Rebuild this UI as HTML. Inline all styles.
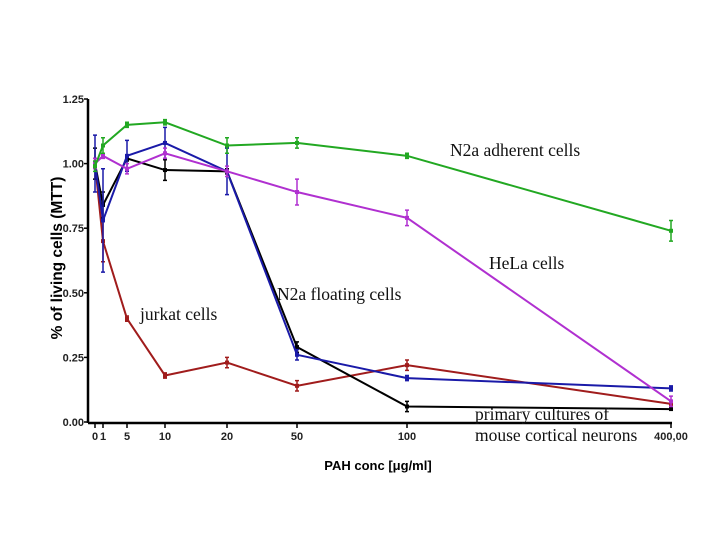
<!DOCTYPE html>
<html><head><meta charset="utf-8"><style>
body{margin:0;background:#fff}
svg{display:block}
.tk{font-family:"Liberation Sans",sans-serif;font-weight:bold;font-size:11px;fill:#222}
.an{font-family:"Liberation Serif",serif;font-size:17.5px;fill:#111}
</style></head><body>
<svg id="c" width="720" height="540">
<rect width="720" height="540" fill="#fff"/>
<g id="g"></g>
<text class="an" x="450" y="156">N2a adherent cells</text>
<text class="an" x="489" y="269">HeLa cells</text>
<text class="an" x="277" y="300">N2a floating cells</text>
<text class="an" x="140" y="320">jurkat cells</text>
<text class="an" x="475" y="420">primary cultures of</text>
<text class="an" x="475" y="441">mouse cortical neurons</text>
<text x="378" y="470" text-anchor="middle" style="font-family:'Liberation Sans',sans-serif;font-weight:bold;font-size:13px">PAH conc [μg/ml]</text>
<text transform="translate(62,258) rotate(-90)" text-anchor="middle" style="font-family:'Liberation Sans',sans-serif;font-weight:bold;font-size:15.5px">% of living cells (MTT)</text>
</svg>
<script>
const categories=["0","1","5","10","20","50","100","400,00"];
const yTicks=[0,0.25,0.5,0.75,1.0,1.25];
const yTickLabels=["0.00","0.25","0.50","0.75","1.00","1.25"];
const n2aAdherent=[0.99,1.07,1.15,1.16,1.07,1.08,1.03,0.74];
const n2aAdherentErr=[0.02,0.03,0.01,0.01,0.03,0.02,0.01,0.04];
const hela=[1.00,1.03,0.98,1.04,0.97,0.89,0.79,0.08];
const helaErr=[0.02,0.01,0.02,0.02,0.02,0.05,0.03,0.02];
const n2aFloating=[1.00,0.78,1.03,1.08,0.97,0.26,0.17,0.13];
const n2aFloatingErr=[0.11,0.20,0.06,0.06,0.09,0.02,0.01,0.01];
const primary=[1.00,0.84,1.02,0.975,0.97,0.29,0.06,0.05];
const primaryErr=[0.06,0.05,0.01,0.04,0.01,0.02,0.02,0.0];
const jurkat=[1.00,0.70,0.40,0.18,0.23,0.14,0.22,0.07];
const jurkatErr=[0.02,0.08,0.01,0.01,0.02,0.02,0.02,0.01];
const xPos=[95,103,127,165,227,297,407,671]; // category layout positions
const x0=88,yBase=422,pxPerUnit=258.4;
function xs(i){return xPos[i];}
function ys(v){return yBase-v*pxPerUnit;}
const NS="http://www.w3.org/2000/svg",g=document.getElementById('g');
function el(t,a){const e=document.createElementNS(NS,t);for(const k in a)e.setAttribute(k,a[k]);g.appendChild(e);return e;}
let a=el('line',{x1:x0,y1:ys(1.25),x2:x0,y2:yBase+1,stroke:'#000','stroke-width':2.5});


a=el('line',{x1:x0,y1:yBase+1,x2:xs(7)+1,y2:yBase+1,stroke:'#000','stroke-width':2.5});


yTicks.forEach((v,i)=>{
 el('line',{x1:x0-4,y1:ys(v),x2:x0,y2:ys(v),stroke:'#000','stroke-width':1.5});
 const t=el('text',{x:x0-4,y:ys(v)+4,'text-anchor':'end',class:'tk'});t.textContent=yTickLabels[i];
 
 
});
categories.forEach((c,i)=>{
 el('line',{x1:xs(i),y1:yBase+1,x2:xs(i),y2:yBase+6,stroke:'#000','stroke-width':1.5});
 const t=el('text',{x:xs(i),y:yBase+18,'text-anchor':'middle',class:'tk'});t.textContent=c;
 
 
});
function series(vals,errs,col,name){
 const p=el('polyline',{points:vals.map((v,i)=>xs(i)+','+ys(v)).join(' '),fill:'none',stroke:col,'stroke-width':2});
 
 
 vals.forEach((v,i)=>{
  const e=el('path',{d:`M${xs(i)},${ys(v+errs[i])}V${ys(v-errs[i])}M${xs(i)-2},${ys(v+errs[i])}h4M${xs(i)-2},${ys(v-errs[i])}h4`,stroke:col,'stroke-width':1.5,fill:'none'});
  
  
  const m=el('rect',{x:xs(i)-2,y:ys(v)-2,width:4,height:4,fill:col});
  
  
 });
}
series(jurkat,jurkatErr,'#a01c1c','jurkat');
series(primary,primaryErr,'#000','primary');
series(n2aFloating,n2aFloatingErr,'#1a1aa8','n2a-floating');
series(hela,helaErr,'#b030d0','hela');
series(n2aAdherent,n2aAdherentErr,'#22a822','n2a-adherent');
</script>
</body></html>
